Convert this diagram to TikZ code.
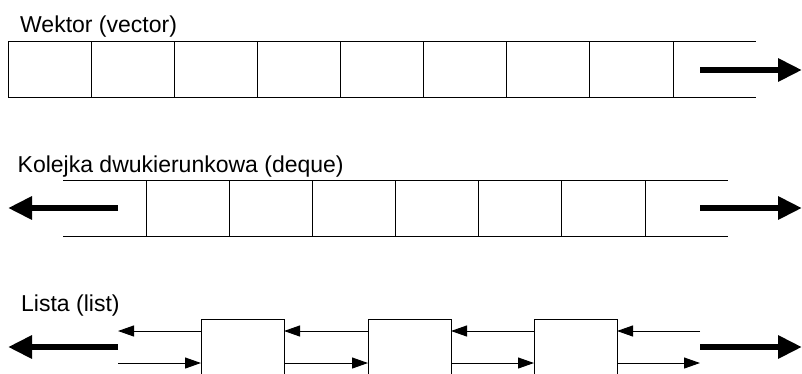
\documentclass[tikz,border=0pt]{standalone}
\usepackage{fontspec}
\setmainfont{Liberation Sans}
\usetikzlibrary{arrows.meta,calc}
\begin{document}
\begin{tikzpicture}[x=1pt,y=-1pt,
 cell/.style={draw,line width=1pt,minimum width=83.15pt,minimum height=55.5pt,inner sep=0pt,outer sep=0pt,anchor=north west},
 lbox/.style={draw,line width=1pt,minimum width=83pt,minimum height=83pt,inner sep=0pt,outer sep=0pt,anchor=north west},
 edge/.style={line width=1pt},
 thinarrow/.style={line width=1pt,-{Triangle[length=16pt,width=11pt]}},
 bigarrow/.style={line width=6pt,-{Triangle[length=24pt,width=22pt]}},
 title/.style={anchor=base west,inner sep=0pt,font=\fontsize{23pt}{27pt}\selectfont}]
\useasboundingbox (0,0) rectangle (802,373);
\clip (0,0) rectangle (802,373);

% ---------- Vector ----------
\node[title] (tv) at (20,32) {Wektor (vector)};
\foreach \i in {1,...,8} \node[cell] (v\i) at ({8+83.125*(\i-1)},41.7) {};
\coordinate (vend) at (756,0);
\draw[edge] (v8.north east) -- (v8.north east -| vend);
\draw[edge] (v8.south east) -- (v8.south east -| vend);
\coordinate (vas) at (700,70);
\coordinate (vae) at (802,70);
\draw[bigarrow] (vas) -- (vae);

% ---------- Deque ----------
\node[title] (td) at (17.5,172) {Kolejka dwukierunkowa (deque)};
\foreach \i in {1,...,6} \node[cell] (d\i) at ({146+83.17*(\i-1)},180.8) {};
\coordinate (dbeg) at (63,0);
\coordinate (dend) at (728,0);
\draw[edge] (d1.north west) -- (d1.north west -| dbeg);
\draw[edge] (d1.south west) -- (d1.south west -| dbeg);
\draw[edge] (d6.north east) -- (d6.north east -| dend);
\draw[edge] (d6.south east) -- (d6.south east -| dend);
\coordinate (dls) at (118,208);
\coordinate (dle) at (8,208);
\coordinate (drs) at (700,208);
\coordinate (dre) at (802,208);
\draw[bigarrow] (dls) -- (dle);
\draw[bigarrow] (drs) -- (dre);

% ---------- List ----------
\node[title] (tl) at (21,311.7) {Lista (list)};
\node[lbox] (l1) at (201,319.7) {};
\node[lbox] (l2) at (368,319.7) {};
\node[lbox] (l3) at (534,319.7) {};
\coordinate (lu) at (0,331);
\coordinate (ld) at (0,363);
\coordinate (lleft) at (118,0);
\coordinate (lright) at (700,0);
\draw[thinarrow] (l1.west |- lu) -- (lleft |- lu);
\draw[thinarrow] (lleft |- ld) -- (l1.west |- ld);
\draw[thinarrow] (l2.west |- lu) -- (l1.east |- lu);
\draw[thinarrow] (l1.east |- ld) -- (l2.west |- ld);
\draw[thinarrow] (l3.west |- lu) -- (l2.east |- lu);
\draw[thinarrow] (l2.east |- ld) -- (l3.west |- ld);
\draw[thinarrow] (lright |- lu) -- (l3.east |- lu);
\draw[thinarrow] (l3.east |- ld) -- (lright |- ld);
\coordinate (lls) at (118,347);
\coordinate (lle) at (8,347);
\coordinate (lrs) at (700,347);
\coordinate (lre) at (802,347);
\draw[bigarrow] (lls) -- (lle);
\draw[bigarrow] (lrs) -- (lre);
\end{tikzpicture}
\end{document}
